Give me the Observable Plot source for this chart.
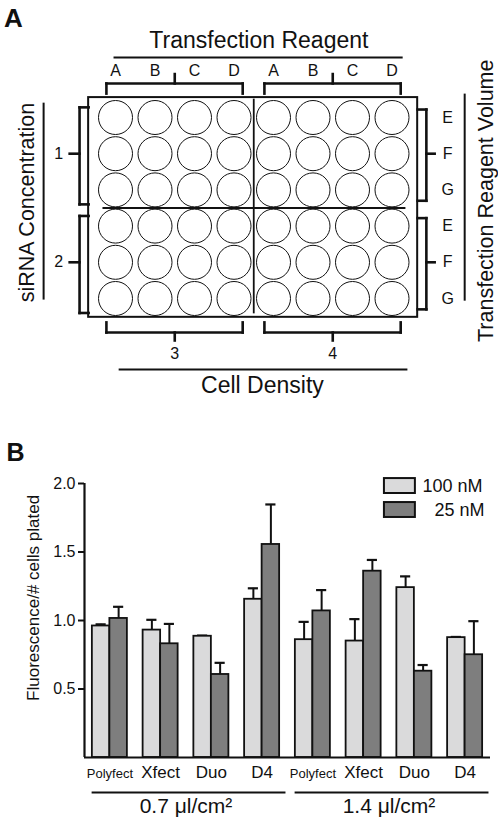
<!DOCTYPE html>
<html>
<head>
<meta charset="utf-8">
<script src="https://cdn.jsdelivr.net/npm/d3@7"></script>
<script src="https://cdn.jsdelivr.net/npm/@observablehq/plot@0.6"></script>
<style>
  html, body { margin: 0; padding: 0; background: #fff; }
  #root { width: 498px; }
  #root svg { display: block; }
</style>
</head>
<body>
<div id="root"></div>
<script>
// ---------------- DATA ----------------
// Panel A: plate layout
const reagentLetters = ["A", "B", "C", "D"];
const volumeLetters = ["E", "F", "G"];
const sirnaGroups = ["1", "2"];
const densityGroups = ["3", "4"];
const plateRows = 6;
const plateCols = 8;

// Panel B: bar chart
const volumes = ["0.7 \u03bcl/cm\u00b2", "1.4 \u03bcl/cm\u00b2"];
const reagents = ["Polyfect", "Xfect", "Duo", "D4"];
const concentrations = ["100 nM", "25 nM"];
const mean100 = [0.96, 0.93, 0.885, 1.155, 0.86, 0.85, 1.24, 0.875];
const err100  = [0.012, 0.075, 0.005, 0.08, 0.13, 0.16, 0.082, 0.005];
const mean25  = [1.015, 0.83, 0.606, 1.555, 1.07, 1.36, 0.63, 0.75];
const err25   = [0.085, 0.145, 0.085, 0.292, 0.152, 0.082, 0.045, 0.245];
const yTicks = [0.5, 1.0, 1.5, 2.0];

// ---------------- STYLE ----------------
const FONT = "'Liberation Sans', Arial, Helvetica, sans-serif";
const LIGHT = "#dadadb";
const DARK = "#7e7e7e";
const INK = "#111";

// ================= PANEL A =================
const root = document.getElementById("root");
{
  const W = 498, H = 400;
  const colStep = 39.5, rowStep = 36.2, col0 = 115, row0 = 117; // layout
  const wells = d3.cross(d3.range(plateRows), d3.range(plateCols)).map(([row, col]) => ({row, col}));

  const plate = {x1: -0.68, x2: 7.65, y1: -0.55, y2: 5.52};
  const colGroups = [0, 1].map(g => ({g, first: 4 * g, last: 4 * g + 3, mid: 4 * g + 1.5}));
  const rowGroups = sirnaGroups.map((label, h) => ({label, first: 3 * h, last: 3 * h + 2, mid: 3 * h + 1}));

  const thick = [];   // brackets
  const medium = [];  // long guide lines
  colGroups.forEach(({first, last, mid}) => {
    const ty = -0.94;
    thick.push({x1: first - 0.23, y1: ty, x2: last + 0.22, y2: ty});
    thick.push({x1: first - 0.23, y1: ty, x2: first - 0.23, y2: -0.66});
    thick.push({x1: last + 0.22, y1: ty, x2: last + 0.22, y2: -0.66});
    thick.push({x1: mid, y1: ty, x2: mid, y2: -1.2});
    const by = 5.94;
    thick.push({x1: first - 0.23, y1: by, x2: last + 0.22, y2: by});
    thick.push({x1: first - 0.23, y1: by, x2: first - 0.23, y2: 5.66});
    thick.push({x1: last + 0.22, y1: by, x2: last + 0.22, y2: 5.66});
    thick.push({x1: mid, y1: by, x2: mid, y2: 6.16});
  });
  rowGroups.forEach(({first, last, mid}) => {
    const lx = -0.91;
    thick.push({x1: lx, y1: first - 0.28, x2: lx, y2: last + 0.4});
    thick.push({x1: lx, y1: first - 0.28, x2: plate.x1, y2: first - 0.28});
    thick.push({x1: lx, y1: last + 0.4, x2: plate.x1, y2: last + 0.4});
    thick.push({x1: lx, y1: mid, x2: -1.16, y2: mid});
    const rx = 7.87;
    thick.push({x1: rx, y1: first - 0.22, x2: rx, y2: last + 0.3});
    thick.push({x1: rx, y1: first - 0.22, x2: plate.x2, y2: first - 0.22});
    thick.push({x1: rx, y1: last + 0.3, x2: plate.x2, y2: last + 0.3});
    thick.push({x1: rx, y1: mid, x2: 8.08, y2: mid});
  });
  medium.push({x1: -0.05, y1: -1.66, x2: 7.27, y2: -1.66});   // under title
  medium.push({x1: 0.08, y1: 6.96, x2: 7.39, y2: 6.96});      // above "Cell Density"
  medium.push({x1: -1.82, y1: -0.41, x2: -1.82, y2: 5.03});   // left
  medium.push({x1: 8.84, y1: -0.66, x2: 8.84, y2: 5.06});     // right
  const dividers = [
    {x1: -0.33, y1: 2.5, x2: 7.34, y2: 2.5},
    {x1: 3.5, y1: -0.52, x2: 3.5, y2: 5.41}
  ];

  const colLetters = d3.range(plateCols).map(c => ({col: c, text: reagentLetters[c % 4]}));
  const rowLetters = d3.range(plateRows).map(r => ({row: r, text: volumeLetters[r % 3]}));

  const chartA = Plot.plot({
    width: W, height: H,
    margin: 0,
    style: {fontFamily: FONT, color: INK, background: "white", overflow: "visible"},
    x: {domain: [-col0 / colStep, (W - col0) / colStep], range: [0, W], axis: null},
    y: {domain: [-row0 / rowStep, (H - row0) / rowStep], range: [0, H], axis: null},
    marks: [
      Plot.rect([plate], {x1: "x1", x2: "x2", y1: "y1", y2: "y2", fill: "white", stroke: INK, strokeWidth: 2}),
      Plot.dot(wells, {x: "col", y: "row", r: 17, fill: "white", stroke: INK, strokeWidth: 1}),
      Plot.link(dividers, {x1: "x1", y1: "y1", x2: "x2", y2: "y2", stroke: INK, strokeWidth: 1.8}),
      Plot.link(thick, {x1: "x1", y1: "y1", x2: "x2", y2: "y2", stroke: INK, strokeWidth: 2.6, strokeLinecap: "square"}),
      Plot.link(medium, {x1: "x1", y1: "y1", x2: "x2", y2: "y2", stroke: INK, strokeWidth: 2}),
      Plot.text(["A"], {x: -2.82, y: -2.73, text: d => d, textAnchor: "start", fontSize: 26, fontWeight: "bold"}),
      Plot.text(["Transfection Reagent"], {x: 3.63, y: -2.13, text: d => d, fontSize: 23}),
      Plot.text(colLetters, {x: "col", y: -1.3, text: "text", fontSize: 16}),
      Plot.text(rowLetters, {x: 8.41, y: "row", text: "text", fontSize: 16}),
      Plot.text(rowGroups, {x: -1.44, y: "mid", text: "label", fontSize: 16}),
      Plot.text(colGroups.map((d, i) => ({...d, label: densityGroups[i]})), {x: "mid", y: 6.52, text: "label", fontSize: 16}),
      Plot.text(["Cell Density"], {x: 3.72, y: 7.4, text: d => d, fontSize: 23}),
      Plot.text(["siRNA Concentration"], {x: -2.23, y: 2.35, text: d => d, rotate: -90, fontSize: 21.5}),
      Plot.text(["Transfection Reagent Volume"], {x: 9.37, y: 2.3, text: d => d, rotate: -90, fontSize: 21.5})
    ]
  });
  root.appendChild(chartA);
}

// ================= PANEL B =================
{
  const W = 498, H = 422;
  const half = 0.345;   // bar width in group units
  const capHalf = 0.1;  // error cap half width
  const bars = [];
  volumes.forEach((v, vi) => reagents.forEach((r, ri) => {
    const g = vi * 4 + ri;
    bars.push({g, conc: concentrations[0], x1: g - half, x2: g, value: mean100[g], err: err100[g]});
    bars.push({g, conc: concentrations[1], x1: g, x2: g + half, value: mean25[g], err: err25[g]});
  }));
  bars.forEach(d => { d.cx = (d.x1 + d.x2) / 2; d.top = d.value + d.err; });
  const cats = volumes.flatMap((v, vi) => reagents.map((r, ri) => ({g: vi * 4 + ri, reagent: r})));
  const groups = volumes.map((v, vi) => ({label: v, x1: vi * 4 - 0.35, x2: vi * 4 + 3 + 0.47, mid: vi * 4 + 1.5}));
  const legend = [
    {conc: concentrations[0], x1: 5.41, x2: 6.02, y1: 1.927, y2: 2.036, tx: 6.16, ty: 1.982},
    {conc: concentrations[1], x1: 5.41, x2: 6.02, y1: 1.752, y2: 1.861, tx: 7.38, ty: 1.807}
  ];

  const chartB = Plot.plot({
    width: W, height: H,
    marginLeft: 84, marginRight: 8, marginTop: 83, marginBottom: 65,
    style: {fontFamily: FONT, color: INK, background: "white", overflow: "visible"},
    x: {domain: [-0.5, 7.5], axis: null},
    y: {domain: [0, 2]},
    color: {domain: concentrations, range: [LIGHT, DARK]},
    marks: [
      Plot.axisY({ticks: yTicks, tickSize: 6, tickPadding: 3, fontSize: 16, tickFormat: d3.format(".1f"), label: null, strokeWidth: 2}),
      Plot.ruleX(bars, {x: "cx", y1: "value", y2: "top", stroke: INK, strokeWidth: 2}),
      Plot.ruleY(bars, {y: "top", x1: d => d.cx - capHalf, x2: d => d.cx + capHalf, stroke: INK, strokeWidth: 2.2}),
      Plot.rectY(bars, {x1: "x1", x2: "x2", y: "value", fill: "conc", stroke: INK, strokeWidth: 1.8}),
      Plot.ruleX([-0.5], {y1: 0, y2: 2, stroke: INK, strokeWidth: 2.2}),
      Plot.ruleY([0], {stroke: INK, strokeWidth: 2.2}),
      Plot.text(cats, {x: "g", text: "reagent", frameAnchor: "bottom", dy: 20, lineAnchor: "bottom",
        fontSize: d => d.reagent === "Polyfect" ? 13 : 17}),
      Plot.ruleY(groups, {y: 0, dy: 35, x1: "x1", x2: "x2", stroke: INK, strokeWidth: 1.8}),
      Plot.text(groups, {x: "mid", y: 0, dy: 55, text: "label", lineAnchor: "bottom", fontSize: 21}),
      Plot.rect(legend, {x1: "x1", x2: "x2", y1: "y1", y2: "y2", fill: "conc", stroke: INK, strokeWidth: 2}),
      Plot.text(legend.slice(0, 1), {x: "tx", y: "ty", text: "conc", textAnchor: "start", fontSize: 18}),
      Plot.text(legend.slice(1), {x: "tx", y: "ty", text: "conc", textAnchor: "end", fontSize: 18}),
      Plot.text(["Fluorescence/# cells plated"], {x: -0.5, y: 1.165, dx: -51, rotate: -90, textAnchor: "middle", text: d => d, fontSize: 17}),
      Plot.text(["B"], {frameAnchor: "top-left", dx: -78, dy: -40, text: d => d, textAnchor: "start", fontSize: 25, fontWeight: "bold"})
    ]
  });
  root.appendChild(chartB);
}
</script>
</body>
</html>
